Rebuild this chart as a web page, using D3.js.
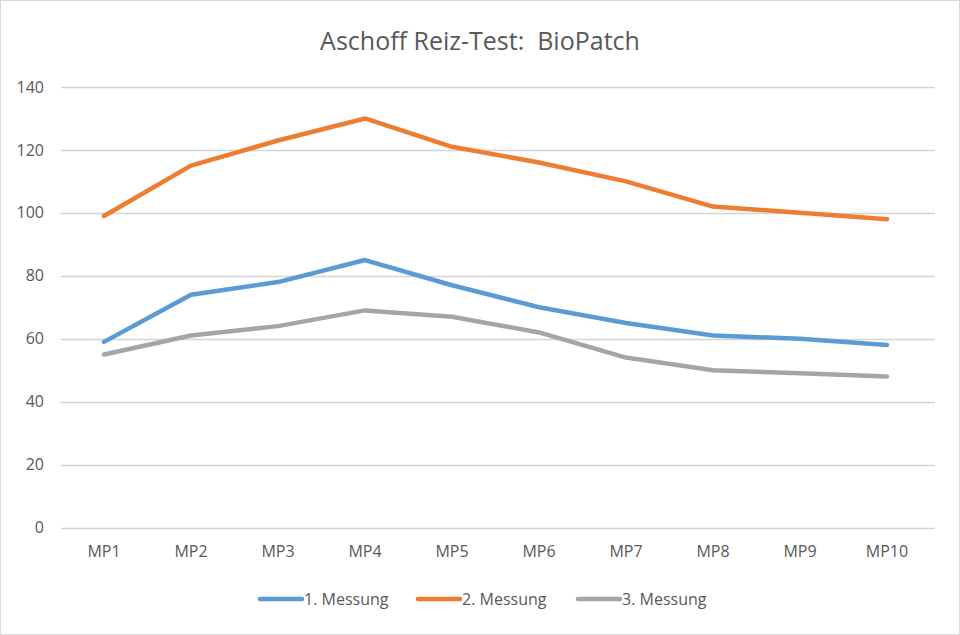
<!DOCTYPE html>
<html>
<head>
<meta charset="utf-8">
<script src="https://cdn.jsdelivr.net/npm/d3@7"></script>
<style>
  html, body { margin: 0; padding: 0; background: #fff; }
  svg { display: block; font-family: "Open Sans", "Liberation Sans", sans-serif; }
</style>
</head>
<body>
<div id="chart"></div>
<script>
const categories = ["MP1", "MP2", "MP3", "MP4", "MP5", "MP6", "MP7", "MP8", "MP9", "MP10"];
const seriesNames = ["1. Messung", "2. Messung", "3. Messung"];
const messung1 = [59, 74, 78, 85, 77, 70, 65, 61, 60, 58];
const messung2 = [99, 115, 123, 130, 121, 116, 110, 102, 100, 98];
const messung3 = [55, 61, 64, 69, 67, 62, 54, 50, 49, 48];
const yTicks = [0, 20, 40, 60, 80, 100, 120, 140];
const colors = ["#5b9bd5", "#ed7d31", "#a5a5a5"];

(function() {
  const width = 960, height = 635;
  const series = [messung1, messung2, messung3];

  const svg = d3.select("#chart").append("svg")
      .attr("width", width)
      .attr("height", height);

  // chart border
  svg.append("rect")
      .attr("x", 0.5).attr("y", 0.5)
      .attr("width", width - 1).attr("height", height - 1)
      .attr("fill", "#fff")
      .attr("stroke", "#d9d9d9");

  svg.append("text")
      .attr("x", width / 2).attr("y", 50)
      .attr("text-anchor", "middle")
      .attr("font-size", 25)
      .attr("fill", "#595959")
      .style("white-space", "pre")
      .text("Aschoff Reiz-Test:  BioPatch");

  const x = d3.scalePoint()
      .domain(categories)
      .range([104, 887]);

  const y = d3.scaleLinear()
      .domain([0, 140])
      .range([527.5, 87]);

  // gridlines
  svg.append("g")
    .selectAll("line")
    .data(yTicks)
    .enter().append("line")
      .attr("x1", 61).attr("x2", 935)
      .attr("y1", d => Math.round(y(d)) + 0.5)
      .attr("y2", d => Math.round(y(d)) + 0.5)
      .attr("stroke", "#d4d4d4")
      .attr("stroke-width", 1.3);

  // y labels
  svg.append("g")
    .selectAll("text")
    .data(yTicks)
    .enter().append("text")
      .attr("x", 44)
      .attr("y", d => y(d))
      .attr("dy", "0.35em")
      .attr("text-anchor", "end")
      .attr("font-size", 16)
      .attr("fill", "#595959")
      .text(d => d);

  // x labels
  svg.append("g")
    .selectAll("text")
    .data(categories)
    .enter().append("text")
      .attr("x", d => x(d))
      .attr("y", 557)
      .attr("text-anchor", "middle")
      .attr("font-size", 16)
      .attr("fill", "#595959")
      .text(d => d);

  const line = d3.line()
      .x((d, i) => x(categories[i]))
      .y(d => y(d));

  svg.append("g")
    .selectAll("path")
    .data(series)
    .enter().append("path")
      .attr("d", line)
      .attr("fill", "none")
      .attr("stroke", (d, i) => colors[i])
      .attr("stroke-width", 4.5)
      .attr("stroke-linejoin", "round")
      .attr("stroke-linecap", "round");

  // legend
  const legendX = [260, 418, 578];
  const legend = svg.append("g")
    .selectAll("g")
    .data(seriesNames)
    .enter().append("g")
      .attr("transform", (d, i) => `translate(${legendX[i]},599)`);

  legend.append("line")
      .attr("x1", 0).attr("x2", 42)
      .attr("stroke", (d, i) => colors[i])
      .attr("stroke-width", 4.5)
      .attr("stroke-linecap", "round");

  legend.append("text")
      .attr("x", 44)
      .attr("dy", "0.35em")
      .attr("font-size", 16)
      .attr("fill", "#595959")
      .text(d => d);
})();
</script>
</body>
</html>
